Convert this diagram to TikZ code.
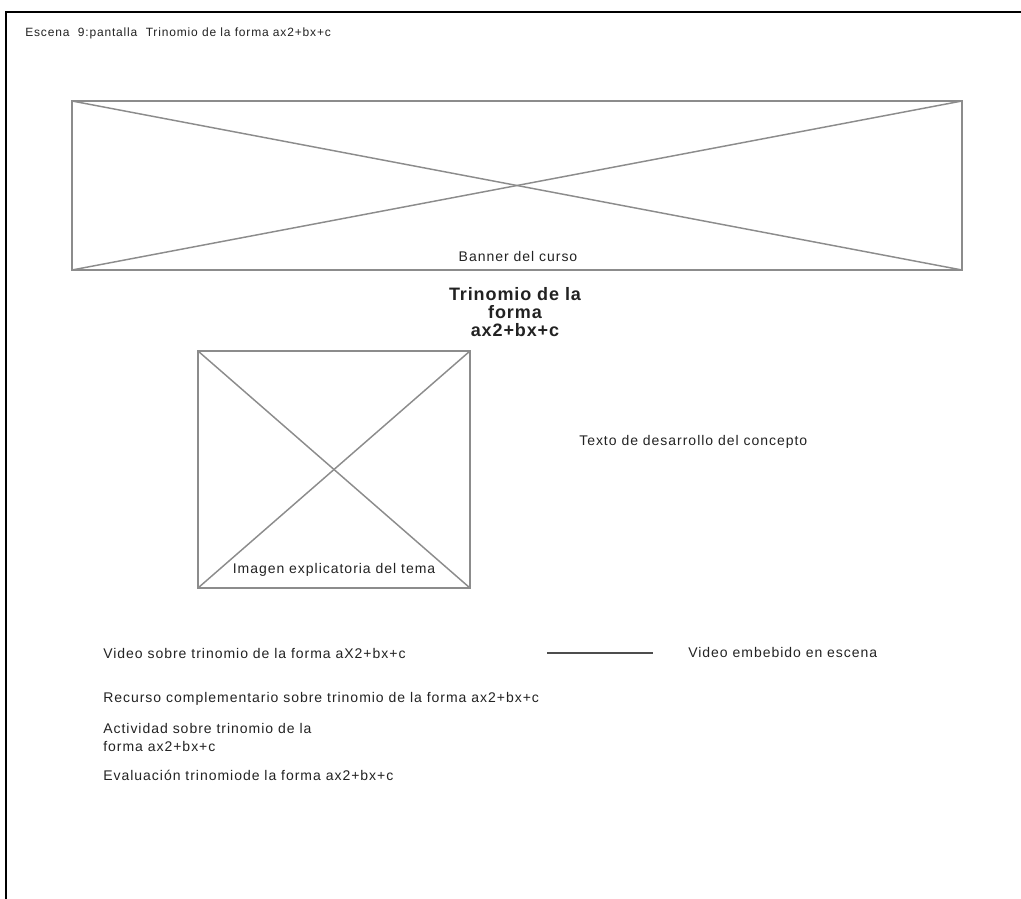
\documentclass[tikz,border=0pt]{standalone}
\usepackage{fontspec}
\setmainfont{Liberation Sans}
\newfontfamily\labelfont[LetterSpace=7]{Liberation Sans}
\newfontfamily\titlefont[LetterSpace=5]{Liberation Sans}
\definecolor{wire}{HTML}{8C8C8C}
\definecolor{ink}{HTML}{222222}
\tikzset{
  frameline/.style={line width=1.5pt, black},
  wireline/.style={line width=1.1pt, wire},
  lbl/.style={inner sep=0pt, anchor=base west, text=ink, font=\labelfont\fontsize{10.5pt}{13pt}\selectfont},
  lblc/.style={lbl, anchor=base},
  small lbl/.style={lbl, font=\labelfont\fontsize{9pt}{11pt}\selectfont},
  heading/.style={inner sep=0pt, anchor=north, align=center, text=ink,
    font=\titlefont\fontsize{13.5pt}{13.5pt}\selectfont\bfseries},
}
\begin{document}
\begin{tikzpicture}[x=0.75pt, y=-0.75pt]
  \useasboundingbox (0,0) rectangle (1021,899);
  % page frame (top and left edges)
  \coordinate (ftl) at (6,12);
  \coordinate (ftr) at (1021,12);
  \coordinate (fbl) at (6,899);
  \draw[frameline] (ftr) -- (ftl) -- (fbl);

  \node[small lbl] (scene) at (25,37) {Escena\ \ 9:pantalla\ \ Trinomio de la forma ax2+bx+c};

  % course banner placeholder
  \coordinate (bnw) at (72,101);
  \coordinate (bse) at (962,270);
  \draw[wireline] (bnw) rectangle (bse);
  \draw[wireline] (bnw) -- (bse);
  \draw[wireline] (bnw |- bse) -- (bnw -| bse);
  \node[lblc] (banner) at (518,261) {Banner del curso};

  \node[heading] (title) at (515,287) {Trinomio de la\\forma\\ax2+bx+c};

  % explanatory image placeholder
  \coordinate (inw) at (198,351);
  \coordinate (ise) at (470,588);
  \draw[wireline] (inw) rectangle (ise);
  \draw[wireline] (inw) -- (ise);
  \draw[wireline] (inw |- ise) -- (inw -| ise);
  \node[lblc] (image) at (334,573) {Imagen explicatoria del tema};

  \node[lbl] (texto) at (579,445) {Texto de desarrollo del concepto};

  % resources list
  \node[lbl] (video) at (103,658) {Video sobre trinomio de la forma aX2+bx+c};
  \node[lbl] (recurso) at (103,702) {Recurso complementario sobre trinomio de la forma ax2+bx+c};
  \node[lbl] (act1) at (103,733) {Actividad sobre trinomio de la};
  \node[lbl] (act2) at (103,751) {forma ax2+bx+c};
  \node[lbl] (eval) at (103,780) {Evaluación trinomiode la forma ax2+bx+c};

  \node[lbl] (embed) at (688,657) {Video embebido en escena};
  \coordinate (la) at (547,653);
  \coordinate (lb) at (653,653);
  \draw[line width=0.9pt, ink!80] (la) -- (lb);
\end{tikzpicture}
\end{document}
